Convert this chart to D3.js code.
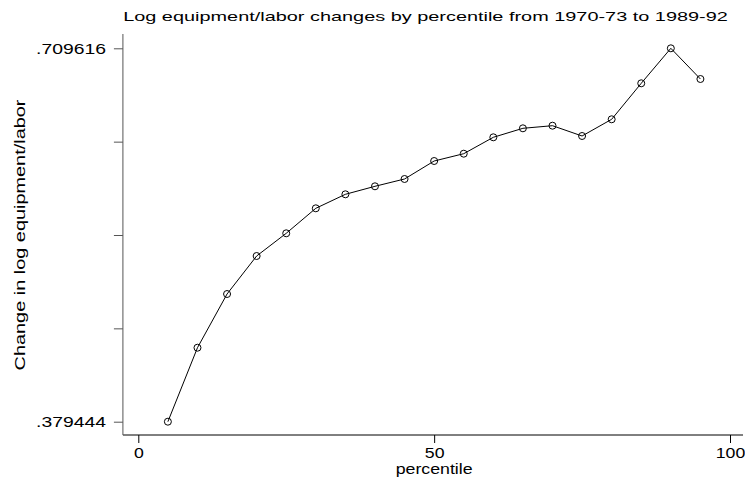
<!DOCTYPE html>
<html>
<head>
<meta charset="utf-8">
<script src="https://cdn.jsdelivr.net/npm/d3@7"></script>
<style>
  body { margin: 0; background: #fff; }
  svg { display: block; font-family: "Liberation Sans", Arial, sans-serif; }
</style>
</head>
<body>
<figure style="margin:0"></figure>
<script>
// data
const percentiles = [5, 10, 15, 20, 25, 30, 35, 40, 45, 50, 55, 60, 65, 70, 75, 80, 85, 90, 95]
const changes = [.379444, .44487, .49236, .52596, .54603, .56814, .58052, .58759, .59405,
                 .60996, .61642, .63092, .63888, .64118, .63207, .64684, .67867, .709616, .68247]
const xTickValues = [0, 50, 100]
const yTickValues = [.379444, .461987, .54453, .627073, .709616]
const yTickLabels = ['.379444', '', '', '', '.709616']
const xAxisExtent = [-2.6, 102.2]
const yAxisExtent = [.36768, .72226]
const title = 'Log equipment/labor changes by percentile from 1970-73 to 1989-92'
const xTitle = 'percentile'
const yTitle = 'Change in log equipment/labor'

const figure = document.querySelector('figure')
const W = 745, H = 480

const svg = d3.select(figure).append('svg')
    .attr('width', W)
    .attr('height', H)

const x = d3.scaleLinear().domain([0, 100]).range([138.3, 730]),
      y = d3.scaleLinear().domain([.379444, .709616]).range([421.7, 48.3])

const data = percentiles.map((p, i) => ({pos: p, val: changes[i]}))

// the fonts in the original are wider than Arial: scale glyphs sideways about the anchor
function widen(sel, k) {
  sel.each(function() {
    const t = d3.select(this)
    const ax = +(t.attr('x') || 0)
    t.attr('transform', 'translate(' + ax + ',0) scale(' + k + ',1) translate(' + (-ax) + ',0)')
  })
}
function fitTo(sel, target) {
  const len = sel.node().getComputedTextLength()
  widen(sel, target / len)
}

// x axis
const gx = svg.append('g')
    .attr('transform', 'translate(0,' + y(yAxisExtent[0]) + ')')
    .call(d3.axisBottom(x).tickValues(xTickValues).tickFormat(d3.format('d')).tickSize(8).tickPadding(4))
gx.select('.domain').remove()
gx.selectAll('text').attr('font-size', 15).attr('font-family', null).attr('fill', '#000').call(widen, 1.18)
gx.selectAll('line').attr('stroke', '#000')
gx.append('line')
    .attr('x1', x(xAxisExtent[0])).attr('x2', x(xAxisExtent[1]))
    .attr('stroke', '#000')

// y axis
const gy = svg.append('g')
    .attr('transform', 'translate(' + x(xAxisExtent[0]) + ',0)')
    .call(d3.axisLeft(y).tickValues(yTickValues).tickFormat((d, i) => yTickLabels[i]).tickSize(9).tickPadding(8))
gy.select('.domain').remove()
gy.selectAll('text').attr('font-size', 15).attr('font-family', null).attr('fill', '#000').call(widen, 1.29)
gy.selectAll('line').attr('stroke', '#555')
gy.append('line')
    .attr('y1', y(yAxisExtent[0])).attr('y2', y(yAxisExtent[1]))
    .attr('stroke', '#555')

// line and hollow circles
const valueLine = d3.line()
    .x(d => x(d.pos))
    .y(d => y(d.val))

svg.append('path')
    .datum(data)
    .attr('d', valueLine)
    .attr('fill', 'none')
    .attr('stroke', '#000')
    .attr('stroke-width', 1)

svg.append('g').selectAll('circle')
    .data(data)
    .join('circle')
    .attr('cx', d => x(d.pos))
    .attr('cy', d => y(d.val))
    .attr('r', 3.5)
    .attr('fill', 'none')
    .attr('stroke', '#000')
    .attr('stroke-width', 1)

// titles
svg.append('text')
    .attr('x', 425.5).attr('y', 21)
    .attr('text-anchor', 'middle')
    .attr('font-size', 13)
    .text(title)
    .call(fitTo, 605)

svg.append('text')
    .attr('x', x(50)).attr('y', 474)
    .attr('text-anchor', 'middle')
    .attr('font-size', 14)
    .text(xTitle)
    .call(fitTo, 77)

const yt = svg.append('g')
    .attr('transform', 'translate(25,' + (y(.379444) + y(.709616)) / 2 + ') rotate(-90)')
yt.append('text')
    .attr('text-anchor', 'middle')
    .attr('font-size', 15)
    .text(yTitle)
    .call(fitTo, 271)
</script>
</body>
</html>
